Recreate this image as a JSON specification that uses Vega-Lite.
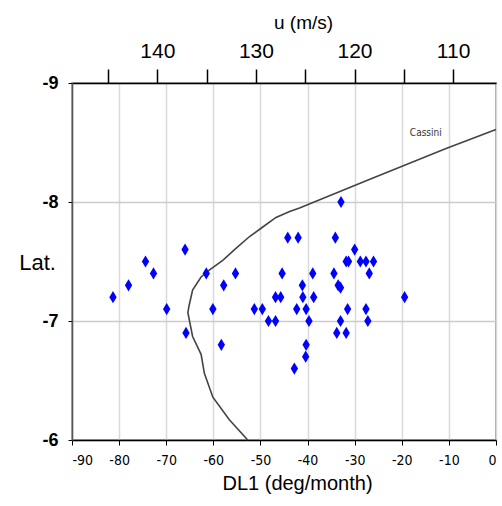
{
  "$schema": "https://vega.github.io/schema/vega-lite/v6.json",
  "width": 424,
  "height": 357,
  "autosize": {"type": "none"},
  "padding": {"left": 72, "top": 83, "right": 6, "bottom": 66},
  "background": "white",
  "config": {
    "view": {"stroke": "#888888", "strokeWidth": 1.5},
    "font": "Liberation Sans"
  },
  "datasets": {
    "pts": [
      {"DL1": -81.3, "lat": -7.2}, {"DL1": -78.0, "lat": -7.3}, {"DL1": -74.4, "lat": -7.5},
      {"DL1": -72.7, "lat": -7.4}, {"DL1": -69.9, "lat": -7.1}, {"DL1": -66.0, "lat": -7.6},
      {"DL1": -65.8, "lat": -6.9}, {"DL1": -61.5, "lat": -7.4}, {"DL1": -60.1, "lat": -7.1},
      {"DL1": -57.8, "lat": -7.3}, {"DL1": -58.3, "lat": -6.8}, {"DL1": -55.3, "lat": -7.4},
      {"DL1": -51.3, "lat": -7.1}, {"DL1": -49.6, "lat": -7.1}, {"DL1": -48.3, "lat": -7.0},
      {"DL1": -46.8, "lat": -7.0}, {"DL1": -46.8, "lat": -7.2}, {"DL1": -45.7, "lat": -7.2},
      {"DL1": -45.4, "lat": -7.4}, {"DL1": -44.2, "lat": -7.7}, {"DL1": -42.0, "lat": -7.7},
      {"DL1": -41.1, "lat": -7.3}, {"DL1": -41.0, "lat": -7.2}, {"DL1": -42.3, "lat": -7.1},
      {"DL1": -40.3, "lat": -7.1}, {"DL1": -38.9, "lat": -7.4}, {"DL1": -38.7, "lat": -7.2},
      {"DL1": -39.7, "lat": -7.0}, {"DL1": -40.3, "lat": -6.8}, {"DL1": -40.4, "lat": -6.7},
      {"DL1": -42.8, "lat": -6.6}, {"DL1": -32.9, "lat": -8.0}, {"DL1": -34.1, "lat": -7.7},
      {"DL1": -30.0, "lat": -7.6}, {"DL1": -31.8, "lat": -7.5}, {"DL1": -31.3, "lat": -7.5},
      {"DL1": -28.8, "lat": -7.5}, {"DL1": -27.6, "lat": -7.5}, {"DL1": -26.0, "lat": -7.5},
      {"DL1": -26.9, "lat": -7.4}, {"DL1": -34.4, "lat": -7.4}, {"DL1": -33.5, "lat": -7.3},
      {"DL1": -33.0, "lat": -7.28}, {"DL1": -19.4, "lat": -7.2}, {"DL1": -31.5, "lat": -7.1},
      {"DL1": -27.6, "lat": -7.1}, {"DL1": -33.0, "lat": -7.0}, {"DL1": -27.2, "lat": -7.0},
      {"DL1": -33.8, "lat": -6.9}, {"DL1": -31.8, "lat": -6.9}
    ],
    "cassini": [
      {"k": 0, "DL1": -52.7, "lat": -6.0}, {"k": 1, "DL1": -56.6, "lat": -6.17},
      {"k": 2, "DL1": -60.1, "lat": -6.36}, {"k": 3, "DL1": -61.9, "lat": -6.56},
      {"k": 4, "DL1": -62.6, "lat": -6.72}, {"k": 5, "DL1": -64.4, "lat": -6.87},
      {"k": 6, "DL1": -65.4, "lat": -7.07}, {"k": 7, "DL1": -65.2, "lat": -7.12},
      {"k": 8, "DL1": -64.4, "lat": -7.26}, {"k": 9, "DL1": -62.6, "lat": -7.37},
      {"k": 10, "DL1": -60.8, "lat": -7.43}, {"k": 11, "DL1": -58.0, "lat": -7.51},
      {"k": 12, "DL1": -55.2, "lat": -7.61}, {"k": 13, "DL1": -52.3, "lat": -7.71},
      {"k": 14, "DL1": -49.5, "lat": -7.79}, {"k": 15, "DL1": -46.7, "lat": -7.87},
      {"k": 16, "DL1": -43.8, "lat": -7.92}, {"k": 17, "DL1": -41.7, "lat": -7.95},
      {"k": 18, "DL1": -26.9, "lat": -8.19}, {"k": 19, "DL1": -10.6, "lat": -8.45},
      {"k": 20, "DL1": 0, "lat": -8.61}
    ],
    "labels": [{"DL1": -14.9, "lat": -8.58, "text": "Cassini"}],
    "uaxis": [{"u": 148.65}, {"u": 105.65}]
  },
  "layer": [
    {
      "encoding": {
        "x": {
          "field": "DL1", "type": "quantitative",
          "scale": {"domain": [-90, 0], "nice": false, "zero": false},
          "axis": {
            "orient": "bottom",
            "values": [-90, -80, -70, -60, -50, -40, -30, -20, -10, 0],
            "labelExpr": "'' + datum.value",
            "labelFont": "Liberation Sans Narrow, DejaVu Sans Condensed, Roboto Condensed, Liberation Sans",
            "labelFontSize": 14,
            "labelColor": "black",
            "labelPadding": 8,
            "tickSize": 5,
            "tickColor": "black",
            "domainColor": "black",
            "domainWidth": 1.5,
            "grid": true,
            "gridColor": "#d9d9d9",
            "gridWidth": 1.5,
            "title": "DL1 (deg/month)",
            "titleFont": "Liberation Sans",
            "titleFontSize": 20,
            "titleFontWeight": "normal",
            "titleColor": "black",
            "titleAlign": "center",
            "titleBaseline": "alphabetic",
            "titleX": 225,
            "titleY": 49
          }
        },
        "y": {
          "field": "lat", "type": "quantitative",
          "scale": {"domain": [-9, -6], "nice": false, "zero": false, "reverse": true},
          "axis": {
            "values": [-9, -8, -7, -6],
            "labelExpr": "'' + datum.value",
            "labelFont": "Liberation Sans",
            "labelFontSize": 18,
            "labelFontWeight": "bold",
            "labelColor": "black",
            "labelPadding": 10,
            "tickSize": 4,
            "tickColor": "black",
            "domainColor": "#555555",
            "domainWidth": 1.5,
            "grid": true,
            "gridColor": "#cccccc",
            "gridWidth": 1.5,
            "title": "Lat.",
            "titleAngle": 0,
            "titleFontSize": 22,
            "titleFontWeight": "normal",
            "titleColor": "black",
            "titleAlign": "center",
            "titleBaseline": "middle",
            "titleX": -35,
            "titleY": 179
          }
        }
      },
      "layer": [
        {
          "data": {"name": "cassini"},
          "mark": {"type": "line", "color": "#444444", "strokeWidth": 1.6},
          "encoding": {"order": {"field": "k", "type": "quantitative"}}
        },
        {
          "data": {"name": "pts"},
          "mark": {
            "type": "point", "filled": true, "opacity": 1,
            "shape": "M0,-1L0.6,0L0,1L-0.6,0Z",
            "size": 150, "color": "#0000ff"
          }
        },
        {
          "data": {"name": "labels"},
          "mark": {"type": "text", "font": "Liberation Sans Narrow, DejaVu Sans Condensed, Roboto Condensed, Liberation Sans", "fontSize": 10, "color": "#333333"},
          "encoding": {"text": {"field": "text"}}
        }
      ]
    },
    {
      "data": {"name": "uaxis"},
      "mark": {"type": "rule", "opacity": 0},
      "encoding": {
        "x": {
          "field": "u", "type": "quantitative",
          "scale": {"domain": [105.65, 148.65], "reverse": true, "nice": false, "zero": false},
          "axis": {
            "orient": "top",
            "values": [145, 140, 135, 130, 125, 120, 115, 110],
            "labelExpr": "datum.value % 10 == 0 ? '' + datum.value : ''",
            "labelFont": "Liberation Sans",
            "labelFontSize": 21,
            "labelColor": "black",
            "labelPadding": 8,
            "tickSize": 14,
            "tickColor": "black",
            "tickWidth": 1.5,
            "domainColor": "black",
            "domainWidth": 1.5,
            "grid": false,
            "title": "u (m/s)",
            "titleFont": "Liberation Sans",
            "titleFontSize": 19,
            "titleFontWeight": "normal",
            "titleColor": "black",
            "titleAlign": "center",
            "titleBaseline": "alphabetic",
            "titleX": 231,
            "titleY": -55
          }
        }
      }
    }
  ],
  "resolve": {"scale": {"x": "independent"}}
}
